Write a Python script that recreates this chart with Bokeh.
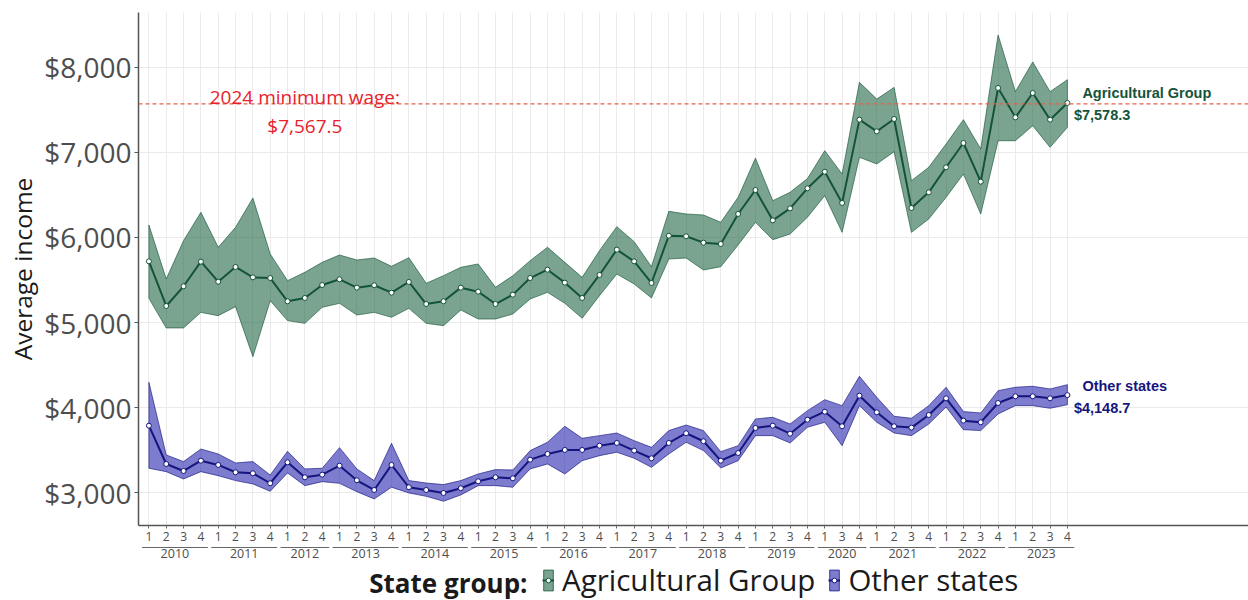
from bokeh.plotting import figure
from bokeh.layouts import column
from bokeh.models import (Range1d, FixedTicker, Span, Legend, LegendItem, Label,
                          NumeralTickFormatter, CustomJSTickFormatter)
from bokeh.core.properties import value
from bokeh.embed import file_html
from bokeh.resources import INLINE

# ---------------- data ----------------
year = ([2010] * 4 + [2011] * 4 + [2012] * 3 + [2013] * 4 + [2014] * 4 + [2015] * 4 + [2016] * 4 +
        [2017] * 4 + [2018] * 4 + [2019] * 4 + [2020] * 3 + [2021] * 4 + [2022] * 4 + [2023] * 4)
quarter = [1, 2, 3, 4, 1, 2, 3, 4, 1, 2, 4, 1, 2, 3, 4, 1, 2, 3, 4, 1, 2, 3, 4, 1, 2, 3, 4,
           1, 2, 3, 4, 1, 2, 3, 4, 1, 2, 3, 4, 1, 3, 4, 1, 2, 3, 4, 1, 2, 3, 4, 1, 2, 3, 4]

agri_mean = [5719, 5195, 5426, 5715, 5480, 5653, 5531, 5523, 5250, 5289, 5441, 5508, 5410, 5438,
             5351, 5477, 5218, 5250, 5410, 5363, 5218, 5328, 5523, 5621, 5469, 5289, 5559, 5856,
             5719, 5465, 6020, 6013, 5938, 5923, 6275, 6556, 6200, 6341, 6576, 6771, 6404, 7382,
             7245, 7390, 6345, 6529, 6823, 7108, 6654, 7754, 7409, 7695, 7382, 7578.3]
agri_hi = [6146, 5512, 5962, 6294, 5884, 6118, 6462, 5805, 5492, 5590, 5707, 5793, 5735, 5758,
           5660, 5762, 5461, 5551, 5649, 5688, 5414, 5551, 5727, 5884, 5707, 5531, 5844, 6126,
           5950, 5656, 6306, 6275, 6263, 6177, 6470, 6930, 6431, 6530, 6690, 7018, 6744, 7820,
           7624, 7761, 6666, 6823, 7096, 7382, 7038, 8376, 7711, 8060, 7711, 7851]
agri_lo = [5285, 4937, 4937, 5120, 5081, 5187, 4600, 5257, 5023, 4991, 5179, 5226, 5089, 5120,
           5062, 5167, 4991, 4964, 5148, 5042, 5042, 5101, 5277, 5355, 5226, 5051, 5316, 5570,
           5453, 5289, 5746, 5758, 5617, 5656, 5911, 6177, 5973, 6040, 6236, 6490, 6059, 6940,
           6862, 7006, 6059, 6216, 6470, 6744, 6275, 7135, 7135, 7311, 7057, 7292]

other_mean = [3790, 3340, 3258, 3379, 3329, 3243, 3231, 3114, 3360, 3184, 3215, 3320, 3149, 3035,
              3329, 3067, 3035, 3000, 3055, 3137, 3184, 3172, 3391, 3458, 3505, 3505, 3555, 3587,
              3497, 3407, 3587, 3701, 3607, 3379, 3469, 3763, 3790, 3696, 3860, 3954, 3783, 4142,
              3947, 3783, 3767, 3915, 4111, 3849, 3830, 4056, 4135, 4135, 4111, 4148.7]
other_hi = [4299, 3446, 3368, 3516, 3458, 3352, 3368, 3211, 3489, 3282, 3290, 3532, 3282, 3145,
            3583, 3145, 3117, 3098, 3145, 3223, 3274, 3270, 3497, 3595, 3783, 3642, 3673, 3704,
            3614, 3536, 3732, 3798, 3732, 3485, 3555, 3869, 3888, 3810, 3966, 4095, 4025, 4369,
            4123, 3900, 3877, 4025, 4241, 3955, 3939, 4201, 4241, 4252, 4221, 4271]
other_lo = [3290, 3250, 3164, 3250, 3203, 3145, 3106, 3020, 3235, 3086, 3133, 3113, 3015, 2930,
            3067, 3000, 2961, 2903, 2977, 3086, 3086, 3067, 3282, 3340, 3223, 3379, 3438, 3478,
            3407, 3301, 3458, 3595, 3497, 3293, 3379, 3673, 3673, 3587, 3771, 3830, 3555, 4025,
            3830, 3704, 3673, 3810, 4009, 3743, 3732, 3927, 4025, 4025, 3994, 4036]

min_wage = 7567.5
series_names = ["Agricultural Group", "Other states"]
legend_title = "State group:"
y_ticks = [3000, 4000, 5000, 6000, 7000, 8000]

# ---------------- styles ----------------
GREEN_LINE = "#14533a"
GREEN_FILL = "#0d5a34"
BLUE_LINE = "#15157e"
BLUE_FILL = "#1210a8"
TXT_FONT = "Open Sans"
W = 1248
LEFT = 138
H_MAIN = 546
H_LEG = 600 - H_MAIN

x = list(range(len(quarter)))
years_unique = sorted(set(year))
year_first = [min(i for i in x if year[i] == yy) for yy in years_unique]
year_last = [max(i for i in x if year[i] == yy) for yy in years_unique]
year_centers = [(a + b) / 2 for a, b in zip(year_first, year_last)]

xr = Range1d(-0.6, 63.45)
p = figure(width=W, height=H_MAIN, output_backend="svg", toolbar_location=None,
           x_range=xr, y_range=Range1d(2618, 8640),
           min_border_left=LEFT, min_border_right=0, min_border_top=12, min_border_bottom=21)
p.outline_line_color = None
p.background_fill_color = "white"
p.border_fill_color = "white"

def band(fig, xs, lo, hi, fill, line):
    return fig.patch(xs + xs[::-1], hi + lo[::-1], fill_color=fill, fill_alpha=0.55,
                     line_color=line, line_width=0.8, line_alpha=0.8)

band(p, x, agri_lo, agri_hi, GREEN_FILL, GREEN_LINE)
band(p, x, other_lo, other_hi, BLUE_FILL, BLUE_LINE)
p.line(x, agri_mean, line_color=GREEN_LINE, line_width=2)
p.line(x, other_mean, line_color=BLUE_LINE, line_width=2)
p.scatter(x, agri_mean, size=5, fill_color="white", line_color=GREEN_LINE, line_width=1)
p.scatter(x, other_mean, size=5, fill_color="white", line_color=BLUE_LINE, line_width=1)

# minimum wage line
p.add_layout(Span(location=min_wage, dimension="width", line_color="#e5604a",
                  line_dash="4 3", line_width=1.3))
p.add_layout(Label(x=9, y=min_wage, text=f"{years_unique[-1] + 1} minimum wage:",
                   text_align="center", text_baseline="middle", y_offset=7,
                   text_color="#e8212b", text_font=TXT_FONT, text_font_size="19px"))
p.add_layout(Label(x=9, y=min_wage, text=f"${min_wage:,.1f}",
                   text_align="center", text_baseline="middle", y_offset=-22,
                   text_color="#e8212b", text_font=TXT_FONT, text_font_size="19px"))

# end labels
for name, vals, col in [(series_names[0], agri_mean, GREEN_LINE), (series_names[1], other_mean, BLUE_LINE)]:
    p.add_layout(Label(x=x[-1], y=vals[-1], text=name, x_offset=15, y_offset=9.5,
                       text_align="left", text_baseline="middle", text_color=col,
                       text_font="Liberation Sans", text_font_style="bold", text_font_size="14.5px"))
    p.add_layout(Label(x=x[-1], y=vals[-1], text=f"${vals[-1]:,.1f}", x_offset=6.5, y_offset=-12.5,
                       text_align="left", text_baseline="middle", text_color=col,
                       text_font="Liberation Sans", text_font_style="bold", text_font_size="14.5px"))

# y axis
ya = p.yaxis[0]
ya.ticker = FixedTicker(ticks=y_ticks)
ya.formatter = NumeralTickFormatter(format="$0,0")
ya.axis_label = "Average income"
ya.axis_label_text_font = TXT_FONT
ya.axis_label_text_font_size = "24.5px"
ya.axis_label_text_font_style = "normal"
ya.axis_label_text_color = "#1a1a1a"
ya.axis_label_standoff = 2
ya.major_label_text_font = TXT_FONT
ya.major_label_text_font_size = "28px"
ya.major_label_text_color = "#4d4d4d"
ya.major_label_standoff = 3
ya.major_tick_out = 4
ya.major_tick_in = 0
ya.major_tick_line_color = "#555555"
ya.minor_tick_line_color = None
ya.axis_line_color = "#555555"
ya.axis_line_width = 1.5

# quarter axis
xa = p.xaxis[0]
qticker = FixedTicker(ticks=x)
xa.ticker = qticker
xa.formatter = CustomJSTickFormatter(args=dict(q=quarter),
                                     code="const i = Math.round(tick); return (i >= 0 && i < q.length) ? String(q[i]) : '';")
xa.major_label_text_font = TXT_FONT
xa.major_label_text_font_size = "12px"
xa.major_label_text_color = "#4d4d4d"
xa.major_label_standoff = 3
xa.major_tick_out = 3
xa.major_tick_in = 0
xa.major_tick_line_color = "#666666"
xa.minor_tick_line_color = None
xa.axis_line_color = "#555555"
xa.axis_line_width = 1.5

p.xgrid.ticker = qticker
p.xgrid.grid_line_color = "#ebebeb"
p.ygrid.grid_line_color = "#ebebeb"

# ---------------- strip below: year groups + legend ----------------
q = figure(width=W, height=H_LEG, output_backend="svg", toolbar_location=None,
           x_range=xr, y_range=Range1d(0, H_LEG),
           x_axis_location=None, y_axis_location=None,
           min_border_left=LEFT, min_border_right=0, min_border_top=0, min_border_bottom=0)
q.outline_line_color = None
q.xgrid.visible = False
q.ygrid.visible = False

q.segment(x0=[a - 0.4 for a in year_first], x1=[b + 0.4 for b in year_last],
          y0=[H_LEG - 1] * len(years_unique), y1=[H_LEG - 1] * len(years_unique),
          line_color="#666666", line_width=1)
q.text(x=year_centers, y=[H_LEG - 7] * len(years_unique), text=[str(v) for v in years_unique],
       text_align="center", text_baseline="middle", text_font=value(TXT_FONT),
       text_font_size="12.5px", text_color="#4d4d4d")

off = [-1000]
g1 = [q.patch(off * 2, off * 2, fill_color=GREEN_FILL, fill_alpha=0.55, line_color=GREEN_LINE, line_width=0.8),
      q.line(off, off, line_color=GREEN_LINE, line_width=2),
      q.scatter(off, off, size=5, fill_color="white", line_color=GREEN_LINE)]
g2 = [q.patch(off * 2, off * 2, fill_color=BLUE_FILL, fill_alpha=0.55, line_color=BLUE_LINE, line_width=0.8),
      q.line(off, off, line_color=BLUE_LINE, line_width=2),
      q.scatter(off, off, size=5, fill_color="white", line_color=BLUE_LINE)]
legend = Legend(items=[LegendItem(label=series_names[0], renderers=g1),
                       LegendItem(label=series_names[1], renderers=g2)],
                orientation="horizontal", location=(542 - LEFT, 0),
                label_text_font=TXT_FONT, label_text_font_size="29.5px", label_text_color="#1a1a1a",
                glyph_width=12, glyph_height=26, label_standoff=8, spacing=13, padding=0, margin=0,
                border_line_color=None, background_fill_alpha=0)
q.add_layout(legend)
q.add_layout(Label(x=527 - LEFT, y=18, x_units="screen", text=legend_title,
                   text_align="right", text_baseline="middle",
                   text_font=TXT_FONT, text_font_size="26px", text_font_style="bold",
                   text_color="#1a1a1a"))

open("out.html", "w").write(file_html(column(p, q, spacing=0), INLINE))
